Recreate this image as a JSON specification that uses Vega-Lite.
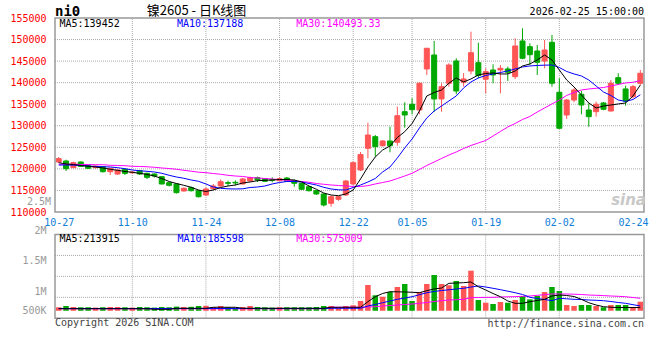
{
  "$schema": "https://vega.github.io/schema/vega-lite/v6.json",
  "width": 660,
  "height": 360,
  "autosize": {"type": "none"},
  "padding": 0,
  "background": "white",
  "config": {"view": {"stroke": null}},
  "datasets": {
    "k": [
      {"d":"10-27","i":0,"o":121600,"h":122760,"l":121370,"c":122370,"v":263000,"m5":121440,"m10":120900,"m30":121070,"vm5":229000,"vm10":234000,"vm30":227000},
      {"d":"10-28","i":1,"o":121830,"h":122130,"l":119510,"c":120050,"v":294000,"m5":121140,"m10":120900,"m30":121070,"vm5":229000,"vm10":234000,"vm30":227000},
      {"d":"10-29","i":2,"o":120280,"h":121670,"l":120210,"c":121440,"v":270000,"m5":121020,"m10":120860,"m30":121070,"vm5":229000,"vm10":234000,"vm30":227000},
      {"d":"10-30","i":3,"o":121600,"h":121720,"l":120440,"c":120600,"v":263000,"m5":120790,"m10":120790,"m30":121020,"vm5":229000,"vm10":234000,"vm30":227000},
      {"d":"10-31","i":4,"o":120740,"h":120900,"l":119980,"c":120140,"v":263000,"m5":120600,"m10":120670,"m30":121020,"vm5":229000,"vm10":234000,"vm30":227000},
      {"d":"11-03","i":5,"o":120280,"h":120790,"l":120090,"c":120670,"v":255000,"m5":120440,"m10":120560,"m30":120970,"vm5":229000,"vm10":234000,"vm30":227000},
      {"d":"11-04","i":6,"o":120510,"h":120670,"l":119160,"c":119350,"v":263000,"m5":120210,"m10":120510,"m30":120970,"vm5":229000,"vm10":234000,"vm30":227000},
      {"d":"11-05","i":7,"o":119350,"h":120210,"l":118580,"c":120140,"v":270000,"m5":119910,"m10":120440,"m30":120830,"vm5":229000,"vm10":234000,"vm30":227000},
      {"d":"11-06","i":8,"o":118820,"h":119860,"l":118580,"c":119740,"v":270000,"m5":119670,"m10":120280,"m30":120790,"vm5":229000,"vm10":234000,"vm30":227000},
      {"d":"11-07","i":9,"o":119900,"h":120090,"l":118580,"c":118970,"v":263000,"m5":119400,"m10":120050,"m30":120740,"vm5":229000,"vm10":234000,"vm30":227000},
      {"d":"11-10","i":10,"o":119110,"h":119480,"l":118820,"c":119280,"v":255000,"m5":119210,"m10":119740,"m30":120600,"vm5":229000,"vm10":234000,"vm30":227000},
      {"d":"11-11","i":11,"o":119580,"h":119740,"l":118580,"c":118820,"v":270000,"m5":118980,"m10":119560,"m30":120560,"vm5":229000,"vm10":234000,"vm30":227000},
      {"d":"11-12","i":12,"o":118970,"h":119160,"l":117660,"c":118040,"v":263000,"m5":118700,"m10":119440,"m30":120490,"vm5":229000,"vm10":234000,"vm30":227000},
      {"d":"11-13","i":13,"o":118820,"h":118930,"l":118000,"c":118350,"v":255000,"m5":118350,"m10":119280,"m30":120370,"vm5":215000,"vm10":234000,"vm30":227000},
      {"d":"11-14","i":14,"o":118190,"h":118350,"l":116390,"c":116500,"v":270000,"m5":117770,"m10":118980,"m30":120210,"vm5":215000,"vm10":234000,"vm30":227000},
      {"d":"11-17","i":15,"o":116800,"h":116960,"l":115920,"c":116190,"v":263000,"m5":117080,"m10":118510,"m30":120090,"vm5":215000,"vm10":234000,"vm30":227000},
      {"d":"11-18","i":16,"o":116500,"h":116610,"l":114290,"c":114480,"v":279000,"m5":116610,"m10":118120,"m30":119910,"vm5":239000,"vm10":234000,"vm30":227000},
      {"d":"11-19","i":17,"o":114870,"h":115680,"l":114760,"c":115500,"v":270000,"m5":116190,"m10":117820,"m30":119670,"vm5":239000,"vm10":234000,"vm30":227000},
      {"d":"11-20","i":18,"o":115640,"h":115920,"l":114760,"c":114940,"v":274000,"m5":115730,"m10":117420,"m30":119470,"vm5":239000,"vm10":234000,"vm30":227000},
      {"d":"11-21","i":19,"o":114940,"h":115100,"l":113360,"c":113550,"v":294000,"m5":115100,"m10":117120,"m30":119230,"vm5":239000,"vm10":234000,"vm30":227000},
      {"d":"11-24","i":20,"o":113940,"h":115680,"l":113710,"c":115340,"v":298000,"m5":114760,"m10":116500,"m30":119120,"vm5":239000,"vm10":234000,"vm30":227000},
      {"d":"11-25","i":21,"o":115410,"h":116500,"l":115100,"c":116030,"v":270000,"m5":115100,"m10":115800,"m30":118930,"vm5":263000,"vm10":234000,"vm30":227000},
      {"d":"11-26","i":22,"o":116030,"h":117540,"l":115870,"c":117030,"v":294000,"m5":115680,"m10":115500,"m30":118750,"vm5":263000,"vm10":234000,"vm30":227000},
      {"d":"11-27","i":23,"o":116800,"h":117260,"l":116030,"c":116660,"v":263000,"m5":116030,"m10":115380,"m30":118510,"vm5":263000,"vm10":234000,"vm30":227000},
      {"d":"11-28","i":24,"o":116890,"h":117330,"l":116190,"c":116730,"v":255000,"m5":116260,"m10":115340,"m30":118350,"vm5":263000,"vm10":234000,"vm30":227000},
      {"d":"12-01","i":25,"o":116500,"h":117890,"l":116390,"c":117660,"v":270000,"m5":116730,"m10":115380,"m30":118240,"vm5":239000,"vm10":234000,"vm30":227000},
      {"d":"12-02","i":26,"o":117190,"h":118190,"l":117080,"c":117960,"v":294000,"m5":116960,"m10":115680,"m30":118000,"vm5":239000,"vm10":234000,"vm30":227000},
      {"d":"12-03","i":27,"o":117960,"h":118190,"l":116960,"c":117420,"v":270000,"m5":117260,"m10":115800,"m30":117890,"vm5":239000,"vm10":234000,"vm30":227000},
      {"d":"12-04","i":28,"o":117730,"h":117890,"l":116960,"c":117120,"v":263000,"m5":117350,"m10":116030,"m30":117770,"vm5":239000,"vm10":234000,"vm30":227000},
      {"d":"12-05","i":29,"o":117500,"h":118040,"l":116890,"c":117350,"v":255000,"m5":117420,"m10":116500,"m30":117660,"vm5":239000,"vm10":234000,"vm30":227000},
      {"d":"12-08","i":30,"o":117260,"h":118010,"l":117190,"c":117730,"v":263000,"m5":117540,"m10":116840,"m30":117490,"vm5":239000,"vm10":234000,"vm30":227000},
      {"d":"12-09","i":31,"o":117890,"h":118120,"l":116960,"c":117120,"v":263000,"m5":117540,"m10":117080,"m30":117350,"vm5":239000,"vm10":234000,"vm30":227000},
      {"d":"12-10","i":32,"o":117260,"h":117540,"l":115870,"c":116660,"v":263000,"m5":117420,"m10":117080,"m30":117190,"vm5":239000,"vm10":234000,"vm30":227000},
      {"d":"12-11","i":33,"o":116660,"h":116730,"l":115100,"c":115270,"v":263000,"m5":116960,"m10":116960,"m30":117080,"vm5":239000,"vm10":234000,"vm30":227000},
      {"d":"12-12","i":34,"o":115870,"h":116030,"l":114760,"c":114940,"v":263000,"m5":116030,"m10":116610,"m30":116890,"vm5":239000,"vm10":234000,"vm30":227000},
      {"d":"12-15","i":35,"o":114940,"h":115100,"l":113940,"c":114180,"v":270000,"m5":115270,"m10":116260,"m30":116610,"vm5":239000,"vm10":234000,"vm30":227000},
      {"d":"12-16","i":36,"o":114180,"h":114290,"l":111280,"c":111620,"v":294000,"m5":114410,"m10":115730,"m30":116430,"vm5":239000,"vm10":234000,"vm30":227000},
      {"d":"12-17","i":37,"o":112020,"h":113830,"l":111230,"c":113550,"v":294000,"m5":113940,"m10":115340,"m30":116260,"vm5":263000,"vm10":239000,"vm30":263000},
      {"d":"12-18","i":38,"o":112950,"h":113710,"l":112600,"c":113550,"v":263000,"m5":113780,"m10":115150,"m30":116150,"vm5":263000,"vm10":239000,"vm30":263000},
      {"d":"12-19","i":39,"o":113940,"h":117420,"l":113710,"c":117190,"v":294000,"m5":114180,"m10":115100,"m30":116030,"vm5":263000,"vm10":239000,"vm30":263000},
      {"d":"12-22","i":40,"o":116500,"h":121720,"l":116260,"c":121440,"v":310000,"m5":115100,"m10":115680,"m30":115920,"vm5":263000,"vm10":239000,"vm30":263000},
      {"d":"12-23","i":41,"o":119740,"h":123920,"l":119510,"c":123340,"v":413000,"m5":117660,"m10":116260,"m30":115920,"vm5":263000,"vm10":239000,"vm30":263000},
      {"d":"12-24","i":42,"o":124780,"h":130720,"l":122460,"c":127860,"v":795000,"m5":120440,"m10":116960,"m30":116100,"vm5":396000,"vm10":294000,"vm30":270000},
      {"d":"12-25","i":43,"o":127470,"h":127860,"l":122830,"c":125150,"v":549000,"m5":122760,"m10":117770,"m30":116500,"vm5":515000,"vm10":329000,"vm30":277000},
      {"d":"12-26","i":44,"o":125380,"h":126700,"l":125200,"c":126470,"v":515000,"m5":124380,"m10":119280,"m30":116840,"vm5":592000,"vm10":372000,"vm30":294000},
      {"d":"12-29","i":45,"o":126470,"h":129790,"l":123850,"c":125380,"v":628000,"m5":125310,"m10":120440,"m30":117190,"vm5":635000,"vm10":413000,"vm30":305000},
      {"d":"12-30","i":46,"o":126170,"h":134430,"l":125380,"c":132340,"v":747000,"m5":127280,"m10":122530,"m30":117770,"vm5":632000,"vm10":453000,"vm30":317000},
      {"d":"12-31","i":47,"o":133270,"h":135450,"l":129560,"c":132500,"v":819000,"m5":128630,"m10":124850,"m30":118350,"vm5":628000,"vm10":484000,"vm30":329000},
      {"d":"01-05","i":48,"o":134990,"h":136380,"l":132670,"c":133730,"v":413000,"m5":130530,"m10":126940,"m30":118980,"vm5":621000,"vm10":515000,"vm30":341000},
      {"d":"01-06","i":49,"o":133660,"h":140050,"l":132670,"c":139860,"v":628000,"m5":133430,"m10":129490,"m30":119860,"vm5":611000,"vm10":563000,"vm30":358000},
      {"d":"01-07","i":50,"o":143180,"h":148050,"l":141780,"c":147980,"v":819000,"m5":136910,"m10":131810,"m30":120790,"vm5":659000,"vm10":611000,"vm30":377000},
      {"d":"01-08","i":51,"o":146420,"h":149670,"l":133270,"c":136220,"v":1033000,"m5":137720,"m10":133430,"m30":121600,"vm5":699000,"vm10":640000,"vm30":401000},
      {"d":"01-09","i":52,"o":136220,"h":139860,"l":133270,"c":139070,"v":819000,"m5":138300,"m10":134590,"m30":122410,"vm5":723000,"vm10":663000,"vm30":420000},
      {"d":"01-12","i":53,"o":139860,"h":144500,"l":139070,"c":144100,"v":788000,"m5":139860,"m10":135750,"m30":123220,"vm5":835000,"vm10":680000,"vm30":437000},
      {"d":"01-13","i":54,"o":145030,"h":145660,"l":137310,"c":138070,"v":891000,"m5":141090,"m10":136910,"m30":123920,"vm5":842000,"vm10":699000,"vm30":444000},
      {"d":"01-14","i":55,"o":140090,"h":142240,"l":139070,"c":140860,"v":771000,"m5":140160,"m10":138770,"m30":124730,"vm5":850000,"vm10":716000,"vm30":453000},
      {"d":"01-15","i":56,"o":142710,"h":151830,"l":141940,"c":146950,"v":1136000,"m5":140860,"m10":140160,"m30":125430,"vm5":866000,"vm10":747000,"vm30":492000},
      {"d":"01-16","i":57,"o":144640,"h":149270,"l":141020,"c":141670,"v":437000,"m5":141780,"m10":141090,"m30":126010,"vm5":754000,"vm10":771000,"vm30":496000},
      {"d":"01-19","i":58,"o":140790,"h":143340,"l":137540,"c":142550,"v":372000,"m5":142130,"m10":141670,"m30":126590,"vm5":675000,"vm10":747000,"vm30":499000},
      {"d":"01-20","i":59,"o":142940,"h":144270,"l":139860,"c":141780,"v":341000,"m5":142250,"m10":142020,"m30":127630,"vm5":592000,"vm10":716000,"vm30":501000},
      {"d":"01-21","i":60,"o":142940,"h":144100,"l":137540,"c":143340,"v":389000,"m5":142020,"m10":142360,"m30":128680,"vm5":515000,"vm10":683000,"vm30":508000},
      {"d":"01-22","i":61,"o":143180,"h":143710,"l":140400,"c":142410,"v":372000,"m5":142020,"m10":142710,"m30":129720,"vm5":413000,"vm10":647000,"vm30":513000},
      {"d":"01-23","i":62,"o":141390,"h":150300,"l":140860,"c":148510,"v":437000,"m5":142710,"m10":143180,"m30":130530,"vm5":358000,"vm10":611000,"vm30":518000},
      {"d":"01-26","i":63,"o":149670,"h":152610,"l":145430,"c":145660,"v":532000,"m5":143870,"m10":143640,"m30":131460,"vm5":358000,"vm10":568000,"vm30":525000},
      {"d":"01-27","i":64,"o":148350,"h":149140,"l":144100,"c":146490,"v":453000,"m5":144340,"m10":143870,"m30":132160,"vm5":396000,"vm10":501000,"vm30":532000},
      {"d":"01-28","i":65,"o":147350,"h":148740,"l":141780,"c":144730,"v":532000,"m5":145260,"m10":143990,"m30":133200,"vm5":425000,"vm10":472000,"vm30":549000},
      {"d":"01-29","i":66,"o":145030,"h":149900,"l":143340,"c":147580,"v":628000,"m5":146420,"m10":144060,"m30":134130,"vm5":453000,"vm10":448000,"vm30":563000},
      {"d":"01-30","i":67,"o":149370,"h":151060,"l":139070,"c":139860,"v":747000,"m5":145260,"m10":144100,"m30":135060,"vm5":532000,"vm10":420000,"vm30":580000},
      {"d":"02-02","i":68,"o":137770,"h":141020,"l":129350,"c":129420,"v":651000,"m5":142940,"m10":143520,"m30":135980,"vm5":556000,"vm10":477000,"vm30":580000},
      {"d":"02-03","i":69,"o":132500,"h":136210,"l":131580,"c":135980,"v":317000,"m5":140620,"m10":142600,"m30":137030,"vm5":544000,"vm10":465000,"vm30":580000},
      {"d":"02-04","i":70,"o":135980,"h":138700,"l":135450,"c":138300,"v":294000,"m5":139000,"m10":142020,"m30":137720,"vm5":520000,"vm10":453000,"vm30":575000},
      {"d":"02-05","i":71,"o":137310,"h":138070,"l":132670,"c":134820,"v":317000,"m5":137140,"m10":141550,"m30":138300,"vm5":453000,"vm10":448000,"vm30":568000},
      {"d":"02-06","i":72,"o":133660,"h":135220,"l":129790,"c":132110,"v":317000,"m5":135290,"m10":140620,"m30":138540,"vm5":372000,"vm10":437000,"vm30":556000},
      {"d":"02-09","i":73,"o":133270,"h":135590,"l":132110,"c":134990,"v":294000,"m5":134130,"m10":139230,"m30":138700,"vm5":317000,"vm10":430000,"vm30":549000},
      {"d":"02-10","i":74,"o":135290,"h":135520,"l":133600,"c":133830,"v":263000,"m5":134590,"m10":137840,"m30":138880,"vm5":277000,"vm10":420000,"vm30":542000},
      {"d":"02-11","i":75,"o":133430,"h":140620,"l":133270,"c":139860,"v":317000,"m5":134820,"m10":137030,"m30":139230,"vm5":263000,"vm10":401000,"vm30":532000},
      {"d":"02-12","i":76,"o":141160,"h":142180,"l":139460,"c":139860,"v":317000,"m5":135060,"m10":135980,"m30":139580,"vm5":258000,"vm10":377000,"vm30":525000},
      {"d":"02-13","i":77,"o":138540,"h":139300,"l":134660,"c":135750,"v":317000,"m5":135290,"m10":135640,"m30":139930,"vm5":258000,"vm10":358000,"vm30":515000},
      {"d":"02-24","i":78,"o":136750,"h":139460,"l":136380,"c":139070,"v":263000,"m5":136910,"m10":136100,"m30":140090,"vm5":258000,"vm10":325000,"vm30":496000},
      {"d":"02-25","i":79,"o":139860,"h":142940,"l":139460,"c":142180,"v":396000,"m5":139452,"m10":137188,"m30":140493.33,"vm5":255000,"vm10":294000,"vm30":477000}
    ],
    "vgrid": [{"i":10},{"i":20},{"i":30},{"i":40},{"i":48},{"i":58},{"i":68}],
    "pgrid": [{"g":115000},{"g":120000},{"g":125000},{"g":130000},{"g":135000},{"g":140000},{"g":145000},{"g":150000}],
    "volgrid": [{"g":500000},{"g":1000000},{"g":1500000}]
  },
  "layer": [
    {
      "layer": [
        {
          "data": {"name": "pgrid"},
          "mark": {"type": "rule", "color": "#aaaaaa", "strokeDash": [1, 1], "strokeWidth": 1},
          "encoding": {
            "y": {"field": "g", "type": "quantitative", "title": null,
              "scale": {"domain": [110000, 155000], "range": [212, 18], "nice": false, "zero": false},
              "axis": {"orient": "left", "offset": -50, "values": [110000,115000,120000,125000,130000,135000,140000,145000,150000,155000], "tickCount": 30, "format": "d", "labelColor": "#ff0000", "labelFont": "DejaVu Sans Mono", "labelFontSize": 10, "labelPadding": 4, "domain": false, "ticks": false, "grid": false, "title": null, "labelOverlap": false, "labelBound": false}},
            "x": {"datum": -0.5},
            "x2": {"datum": 79.5}
          }
        },
        {
          "data": {"name": "vgrid"},
          "mark": {"type": "rule", "color": "#aaaaaa", "strokeDash": [1, 1], "strokeWidth": 1},
          "encoding": {
            "x": {"field": "i", "type": "quantitative", "title": null,
              "scale": {"domain": [-0.5, 79.5], "range": [50, 649], "nice": false, "zero": false},
              "axis": {"orient": "bottom", "offset": -148, "values": [0,10,20,30,40,48,58,68,78], "tickCount": 30,
                "labelExpr": "datum.value==0?'10-27':datum.value==10?'11-10':datum.value==20?'11-24':datum.value==30?'12-08':datum.value==40?'12-22':datum.value==48?'01-05':datum.value==58?'01-19':datum.value==68?'02-02':'02-24'",
                "labelColor": "#0f80d8", "labelFont": "DejaVu Sans Mono", "labelFontSize": 10, "labelPadding": 5, "domain": false, "ticks": false, "grid": false, "title": null, "labelOverlap": false, "labelFlush": false, "labelBound": false}},
            "y": {"datum": 110000},
            "y2": {"datum": 155000}
          }
        },
        {
          "data": {"name": "k"},
          "mark": {"type": "rule", "strokeWidth": 1},
          "encoding": {
            "x": {"field": "i", "type": "quantitative", "title": null},
            "y": {"field": "l", "type": "quantitative", "title": null},
            "y2": {"field": "h"},
            "color": {"condition": {"test": "datum.c >= datum.o", "value": "#ff5555"}, "value": "#00a800"}
          }
        },
        {
          "data": {"name": "k"},
          "mark": {"type": "bar", "width": 5, "strokeWidth": 1},
          "encoding": {
            "x": {"field": "i", "type": "quantitative", "title": null},
            "y": {"field": "o", "type": "quantitative", "title": null},
            "y2": {"field": "c"},
            "color": {"condition": {"test": "datum.c >= datum.o", "value": "#ff5555"}, "value": "#00a800"},
            "stroke": {"condition": {"test": "datum.c >= datum.o", "value": "#ff5555"}, "value": "#00a800"}
          }
        },
        {
          "data": {"name": "k"},
          "mark": {"type": "line", "color": "#ff00ff", "strokeWidth": 1},
          "encoding": {
            "x": {"field": "i", "type": "quantitative", "title": null},
            "y": {"field": "m30", "type": "quantitative", "title": null}
          }
        },
        {
          "data": {"name": "k"},
          "mark": {"type": "line", "color": "#0000ff", "strokeWidth": 1},
          "encoding": {
            "x": {"field": "i", "type": "quantitative", "title": null},
            "y": {"field": "m10", "type": "quantitative", "title": null}
          }
        },
        {
          "data": {"name": "k"},
          "mark": {"type": "line", "color": "#000000", "strokeWidth": 1},
          "encoding": {
            "x": {"field": "i", "type": "quantitative", "title": null},
            "y": {"field": "m5", "type": "quantitative", "title": null}
          }
        },
        {
          "data": {"values": [{}]},
          "mark": {"type": "rect", "fill": "transparent", "stroke": "#999999", "strokeWidth": 1.5},
          "encoding": {
            "x": {"datum": -0.5}, "x2": {"datum": 79.5},
            "y": {"datum": 110000}, "y2": {"datum": 155000}
          }
        },
        {
          "data": {"values": [{}]},
          "mark": {"type": "text", "align": "left", "baseline": "middle", "dx": 4.5, "dy": 5.5, "font": "DejaVu Sans Mono", "fontSize": 10, "color": "#000000"},
          "encoding": {"x": {"datum": -0.5}, "y": {"datum": 155000}, "text": {"value": "MA5:139452"}}
        },
        {
          "data": {"values": [{}]},
          "mark": {"type": "text", "align": "left", "baseline": "middle", "dx": 0.5, "dy": 5.5, "font": "DejaVu Sans Mono", "fontSize": 10, "color": "#0000ff"},
          "encoding": {"x": {"datum": 16}, "y": {"datum": 155000}, "text": {"value": "MA10:137188"}}
        },
        {
          "data": {"values": [{}]},
          "mark": {"type": "text", "align": "left", "baseline": "middle", "dx": 2, "dy": 5.5, "font": "DejaVu Sans Mono", "fontSize": 10, "color": "#ff00ff"},
          "encoding": {"x": {"datum": 32}, "y": {"datum": 155000}, "text": {"value": "MA30:140493.33"}}
        },
        {
          "data": {"values": [{}]},
          "mark": {"type": "text", "align": "left", "baseline": "middle", "dy": -6.5, "font": "DejaVu Sans Mono", "fontSize": 14, "fontWeight": "bold", "color": "#000000"},
          "encoding": {"x": {"datum": -0.5}, "y": {"datum": 155000}, "text": {"value": "ni0"}}
        },
        {
          "data": {"values": [{}]},
          "mark": {"type": "text", "align": "center", "baseline": "middle", "dy": -7.5, "dx": -2, "font": "Noto Sans CJK SC", "fontSize": 13, "color": "#000000"},
          "encoding": {"x": {"datum": 19}, "y": {"datum": 155000}, "text": {"value": "镍2605 - 日K线图"}}
        },
        {
          "data": {"values": [{}]},
          "mark": {"type": "text", "align": "right", "baseline": "middle", "dy": -6.5, "font": "DejaVu Sans Mono", "fontSize": 10, "color": "#000000"},
          "encoding": {"x": {"datum": 79.5}, "y": {"datum": 155000}, "text": {"value": "2026-02-25 15:00:00"}}
        },
        {
          "data": {"values": [{}]},
          "mark": {"type": "text", "align": "right", "baseline": "middle", "dx": 2, "font": "DejaVu Sans", "fontSize": 15, "fontWeight": "bold", "fontStyle": "italic", "color": "#c8c8c8"},
          "encoding": {"x": {"datum": 79.5}, "y": {"datum": 112800}, "text": {"value": "sina"}}
        }
      ]
    },
    {
      "layer": [
        {
          "data": {"name": "volgrid"},
          "mark": {"type": "rule", "color": "#aaaaaa", "strokeDash": [1, 1], "strokeWidth": 1},
          "encoding": {
            "y": {"field": "g", "type": "quantitative", "title": null,
              "scale": {"domain": [0, 2000000], "range": [318.3, 234.5], "nice": false, "zero": false},
              "axis": {"orient": "left", "offset": -50, "values": [500000, 1000000, 1500000, 2000000], "tickCount": 30,
                "labelExpr": "datum.value==500000?'500K':datum.value==1000000?'1M':datum.value==1500000?'1.5M':'2M'",
                "labelOffset": {"condition": [{"test": "datum.value==500000", "value": 13}, {"test": "datum.value==1000000", "value": 15}, {"test": "datum.value==1500000", "value": 5}], "value": -4},
                "labelColor": "#999999", "labelFont": "DejaVu Sans Mono", "labelFontSize": 10, "labelPadding": 4, "domain": false, "ticks": false, "grid": false, "title": null, "labelOverlap": false, "labelBound": false}},
            "x": {"datum": -0.5},
            "x2": {"datum": 79.5}
          }
        },
        {
          "data": {"name": "vgrid"},
          "mark": {"type": "rule", "color": "#aaaaaa", "strokeDash": [1, 1], "strokeWidth": 1},
          "encoding": {
            "x": {"field": "i", "type": "quantitative", "title": null},
            "y": {"datum": 0},
            "y2": {"datum": 2000000}
          }
        },
        {
          "data": {"name": "k"},
          "mark": {"type": "bar", "width": 5.5},
          "encoding": {
            "x": {"field": "i", "type": "quantitative", "title": null},
            "y": {"field": "v", "type": "quantitative", "title": null},
            "y2": {"datum": 180000},
            "color": {"condition": {"test": "datum.c >= datum.o", "value": "#ff5555"}, "value": "#00a800"}
          }
        },
        {
          "data": {"name": "k"},
          "mark": {"type": "line", "color": "#ff00ff", "strokeWidth": 1},
          "encoding": {
            "x": {"field": "i", "type": "quantitative", "title": null},
            "y": {"field": "vm30", "type": "quantitative", "title": null}
          }
        },
        {
          "data": {"name": "k"},
          "mark": {"type": "line", "color": "#0000ff", "strokeWidth": 1},
          "encoding": {
            "x": {"field": "i", "type": "quantitative", "title": null},
            "y": {"field": "vm10", "type": "quantitative", "title": null}
          }
        },
        {
          "data": {"name": "k"},
          "mark": {"type": "line", "color": "#000000", "strokeWidth": 1},
          "encoding": {
            "x": {"field": "i", "type": "quantitative", "title": null},
            "y": {"field": "vm5", "type": "quantitative", "title": null}
          }
        },
        {
          "data": {"values": [{}]},
          "mark": {"type": "rect", "fill": "transparent", "stroke": "#999999", "strokeWidth": 1.5},
          "encoding": {
            "x": {"datum": -0.5}, "x2": {"datum": 79.5},
            "y": {"datum": 0}, "y2": {"datum": 2000000}
          }
        },
        {
          "data": {"values": [{}]},
          "mark": {"type": "text", "align": "left", "baseline": "middle", "dx": 4.5, "dy": 4, "font": "DejaVu Sans Mono", "fontSize": 10, "color": "#000000"},
          "encoding": {"x": {"datum": -0.5}, "y": {"datum": 2000000}, "text": {"value": "MA5:213915"}}
        },
        {
          "data": {"values": [{}]},
          "mark": {"type": "text", "align": "left", "baseline": "middle", "dx": 1, "dy": 4, "font": "DejaVu Sans Mono", "fontSize": 10, "color": "#0000ff"},
          "encoding": {"x": {"datum": 16}, "y": {"datum": 2000000}, "text": {"value": "MA10:185598"}}
        },
        {
          "data": {"values": [{}]},
          "mark": {"type": "text", "align": "left", "baseline": "middle", "dx": 2, "dy": 4, "font": "DejaVu Sans Mono", "fontSize": 10, "color": "#ff00ff"},
          "encoding": {"x": {"datum": 32}, "y": {"datum": 2000000}, "text": {"value": "MA30:575009"}}
        },
        {
          "data": {"values": [{}]},
          "mark": {"type": "text", "align": "right", "baseline": "middle", "dx": -4, "dy": -11.5, "font": "DejaVu Sans Mono", "fontSize": 10, "color": "#999999"},
          "encoding": {"x": {"datum": -0.5}, "y": {"datum": 2500000}, "text": {"value": "2.5M"}}
        },
        {
          "data": {"values": [{}]},
          "mark": {"type": "text", "align": "left", "baseline": "middle", "dy": 5, "font": "DejaVu Sans Mono", "fontSize": 10, "color": "#444444"},
          "encoding": {"x": {"datum": -0.5}, "y": {"datum": 0}, "text": {"value": "Copyright 2026 SINA.COM"}}
        },
        {
          "data": {"values": [{}]},
          "mark": {"type": "text", "align": "right", "baseline": "middle", "dy": 6, "font": "DejaVu Sans Mono", "fontSize": 10, "color": "#444444"},
          "encoding": {"x": {"datum": 79.5}, "y": {"datum": 0}, "text": {"value": "http://finance.sina.com.cn"}}
        }
      ]
    }
  ],
  "resolve": {"scale": {"y": "independent"}, "axis": {"y": "independent"}}
}
